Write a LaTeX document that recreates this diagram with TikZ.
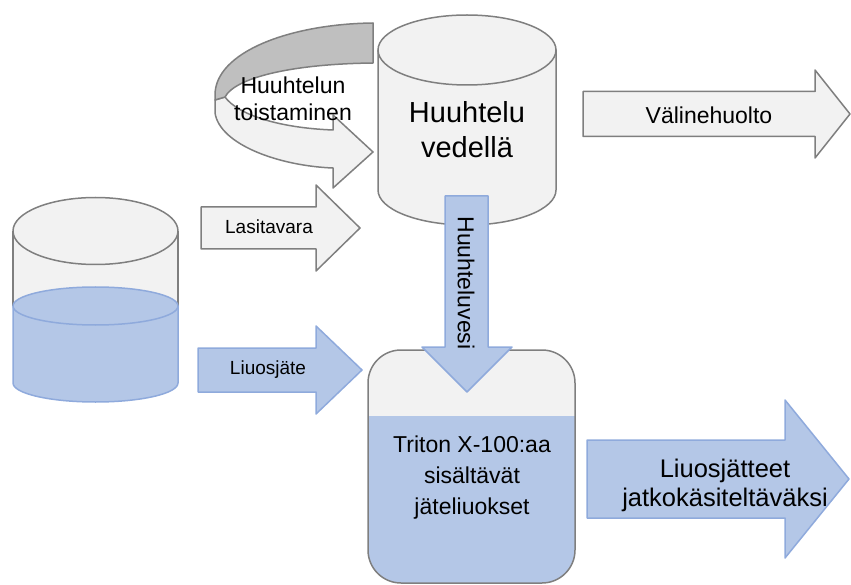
\documentclass[tikz,border=0pt]{standalone}
\usepackage{fontspec}
\setmainfont{Liberation Sans}
\definecolor{lgray}{HTML}{F2F2F2}
\definecolor{dgray}{HTML}{BFBFBF}
\definecolor{edge}{HTML}{7F7F7F}
\definecolor{lblue}{HTML}{B4C7E7}
\definecolor{bedge}{HTML}{8FAADC}
\tikzset{
 grayshape/.style={fill=lgray, draw=edge, line width=1.5pt, line join=round},
 blueshape/.style={fill=lblue, draw=bedge, line width=1.5pt, line join=round},
 lbl/.style={inner sep=0pt, align=center, text=black},
}
\newcommand{\blockarrow}[7]{%
 \path[#1] (#2,#3-#4) -- (#5,#3-#4) -- (#5,#3-#6) -- (#7,#3) -- (#5,#3+#6) -- (#5,#3+#4) -- (#2,#3+#4) -- cycle;}
\begin{document}
\begin{tikzpicture}[x=1pt,y=-1pt]
\useasboundingbox (0,0) rectangle (851,585);
% curved repeat arrow
\path[grayshape] (215,100) -- (215,113) .. controls (220,145) and (280,166) .. (333,168) -- (333,188) -- (373,152) -- (333,115) -- (333,130) .. controls (280,128) and (238,115) .. (225,97) -- cycle;
\path[grayshape, fill=dgray] (373,23) .. controls (290,24) and (215,52) .. (215,95) -- (215,100) .. controls (218,99) and (222,98) .. (225,97) .. controls (235,78) and (290,64) .. (373,63) -- cycle;
% top cylinder
\path[grayshape] (378,50) -- (378,190) .. controls (378,209.3) and (417.8,225) .. (467,225) .. controls (516.2,225) and (556,209.3) .. (556,190) -- (556,50) -- cycle;
\path[grayshape] (467,50) ellipse [x radius=89, y radius=35];
% beaker
\path[fill=lgray] (13,231) rectangle (178,306);
\draw[edge, line width=1.5pt] (13,231) -- (13,306) (178,231) -- (178,306);
\path[grayshape] (95.5,231) ellipse [x radius=82.5, y radius=33.5];
\path[blueshape] (13,306) -- (13,383) .. controls (13,393.5) and (49.9,402) .. (95.5,402) .. controls (141.1,402) and (178,393.5) .. (178,383) -- (178,306) -- cycle;
\path[blueshape] (95.5,306) ellipse [x radius=82.5, y radius=19];
% left arrows
\blockarrow{grayshape}{201}{228}{21}{316}{43}{360}
\blockarrow{blueshape}{198}{370}{22}{316}{44}{362}
% tank
\path[fill=lblue, rounded corners=33pt] (368,350) rectangle (575,583);
\begin{scope}
\clip[rounded corners=33pt] (368,350) rectangle (575,583);
\fill[lgray] (368,350) rectangle (575,416);
\end{scope}
\draw[edge, line width=1.5pt, rounded corners=33pt] (368,350) rectangle (575,583);
% down arrow
\path[blueshape] (445,196) -- (488,196) -- (488,347) -- (512,347) -- (467,392) -- (422,347) -- (445,347) -- cycle;
% right arrows
\blockarrow{grayshape}{583}{114}{22.5}{815}{44}{850}
\blockarrow{blueshape}{587}{479}{39}{785}{79}{849}
% labels
\node[lbl, font=\fontsize{23}{27}\selectfont] (rep) at (293,99) {Huuhtelun\\toistaminen};
\node[lbl, font=\fontsize{29}{35}\selectfont] (cyl) at (467,130) {Huuhtelu\\vedellä};
\node[lbl, font=\fontsize{23}{27}\selectfont] (vali) at (709,115) {Välinehuolto};
\node[lbl, font=\fontsize{19}{23}\selectfont] (lasi) at (269,227) {Lasitavara};
\node[lbl, font=\fontsize{19}{23}\selectfont] (liuos) at (268,370) {Liuosjäte};
\node[lbl, font=\fontsize{23}{27}\selectfont, rotate=-90] (vesi) at (466,283) {Huuhteluvesi};
\node[lbl, font=\fontsize{23}{31}\selectfont] (triton) at (472,478) {Triton X-100:aa\\sisältävät\\jäteliuokset};
\node[lbl, font=\fontsize{25.5}{29}\selectfont] (jatko) at (725,485) {Liuosjätteet\\jatkokäsiteltäväksi};
\end{tikzpicture}
\end{document}
